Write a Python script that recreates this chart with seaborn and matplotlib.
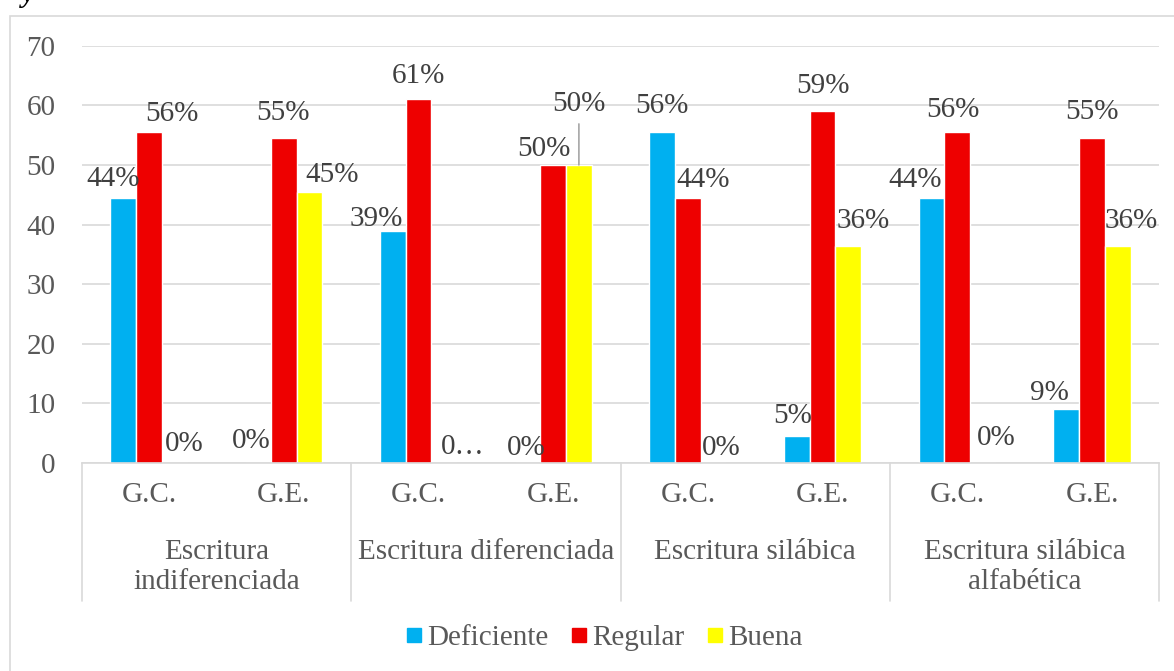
import pandas as pd
import matplotlib
matplotlib.use("Agg")
import matplotlib.pyplot as plt
import matplotlib.transforms as mtransforms
from matplotlib.lines import Line2D
from matplotlib.patches import Rectangle
import seaborn as sns

# --- data ---
etapas = ["Escritura\nindiferenciada", "Escritura diferenciada",
          "Escritura silábica", "Escritura silábica\nalfabética"]
grupos = ["G.C.", "G.E."]
niveles = ["Deficiente", "Regular", "Buena"]

deficiente = [44.44, 0, 38.89, 0, 55.56, 4.55, 44.44, 9.09]
regular = [55.56, 54.55, 61.11, 50.0, 44.44, 59.09, 55.56, 54.55]
buena = [0, 45.45, 0, 50.0, 0, 36.36, 0, 36.36]

colores = {"Deficiente": "#00B0F0", "Regular": "#EE0000", "Buena": "#FFFF00"}

# label nudges in pixels (dx, dy) like Excel's auto placement
nudges = {
    "Deficiente": [(-10.6, 11.8), (-6.3, 15.4), (-16.3, 5.6), (-1.3, 8.4),
                   (0, 19), (-4.3, 12.6), (-16.3, 10.8), (-17.3, 9.2)],
    "Regular": [(22.7, 11), (-0.5, 17.6), (0, 15.7), (-9.3, 9.4),
                (15.5, 10.8), (0, 18.2), (-4, 15), (0, 18.6)],
    "Buena": [(9.3, 12.4), (22.5, 10.2), (18.8, 9.4), (0, 54.4),
              (7.3, 8.4), (15.3, 18.5), (13.1, 18.4), (13.3, 18.5)],
}

# --- long table for seaborn ---
cats = [f"{e}|{g}" for e in etapas for g in grupos]
rows = []
for nivel, vals in zip(niveles, [deficiente, regular, buena]):
    for c, v in zip(cats, vals):
        rows.append({"cat": c, "nivel": nivel, "valor": v})
df = pd.DataFrame(rows)

sns.set_style("white")
plt.rcParams["font.family"] = ["Liberation Serif", "DejaVu Serif"]
texto = "#595959"
grid_c = "#D9D9D9"

fig = plt.figure(figsize=(11.74, 6.71), dpi=100)
ax = fig.add_axes([0.0696, 0.3101, 0.9179, 0.6218])

sns.barplot(data=df, x="cat", y="valor", hue="nivel", order=cats,
            hue_order=niveles, palette=colores, width=0.573, saturation=1,
            errorbar=None, legend=False, ax=ax)

ax.set_xlim(-0.5, 7.5)
ax.set_ylim(0, 70)
ax.set_yticks(range(0, 71, 10))
ax.set_xticks(range(len(cats)))
ax.set_xticklabels(grupos * len(etapas))
ax.set_xlabel("")
ax.set_ylabel("")
ax.tick_params(axis="y", length=0, pad=19, labelsize=21, labelcolor=texto)
ax.tick_params(axis="x", length=0, pad=13.5, labelsize=21, labelcolor=texto)
ax.yaxis.grid(True, color=grid_c, lw=1.2)
ax.set_axisbelow(True)
for s in ["left", "right", "top"]:
    ax.spines[s].set_visible(False)
ax.spines["bottom"].set_color(grid_c)
ax.spines["bottom"].set_linewidth(1.2)

# data labels
for cont, nivel in zip(ax.containers, niveles):
    for i, bar in enumerate(cont):
        v = bar.get_height()
        txt = f"{v:.0f}%"
        if nivel == "Buena" and i == 2:
            txt = "0…"  # truncated in the original
        dx, dy = nudges[nivel][i]
        xc = bar.get_x() + bar.get_width() / 2
        kw = {}
        if nivel == "Buena" and i == 3:
            kw["arrowprops"] = dict(arrowstyle="-", color="#A6A6A6", lw=1.2,
                                    shrinkA=3, shrinkB=0)
        ax.annotate(txt, (xc, v), xytext=(dx, dy), textcoords="offset pixels",
                    ha="center", va="baseline", fontsize=21, color="#404040",
                    annotation_clip=False, **kw)

# two-level category axis
blend = mtransforms.blended_transform_factory(ax.transData, ax.transAxes)
for xb in [-0.5, 1.5, 3.5, 5.5, 7.5]:
    ax.plot([xb, xb], [0, -0.33], transform=blend, color=grid_c, lw=1.2,
            clip_on=False)
for j, etapa in enumerate(etapas):
    ax.text(2 * j + 0.5, -0.182, etapa, transform=blend, ha="center",
            va="top", fontsize=21, color=texto, linespacing=1.22)

# legend
handles = [Line2D([], [], marker="s", ls="", color=colores[n], markersize=10)
           for n in niveles]
fig.legend(handles, niveles, loc="center", bbox_to_anchor=(605 / 1174, 1 - 638 / 671),
           ncol=3, frameon=False, fontsize=21, labelcolor=texto,
           handlelength=0.5, handletextpad=0.2, columnspacing=0.8)

# outer chart frame (cut off at right/bottom) and caption fragment
fig.patches.append(Rectangle((10 / 1174, -0.1), 2, 1.1 - 15.7 / 671,
                             transform=fig.transFigure, fill=False,
                             ec=grid_c, lw=1.2))
fig.text(22 / 1174, 1 - 2 / 671, "y", fontsize=21, fontweight="bold",
         style="italic", va="baseline", ha="left", color="black")

fig.savefig("out.png", dpi=100)
